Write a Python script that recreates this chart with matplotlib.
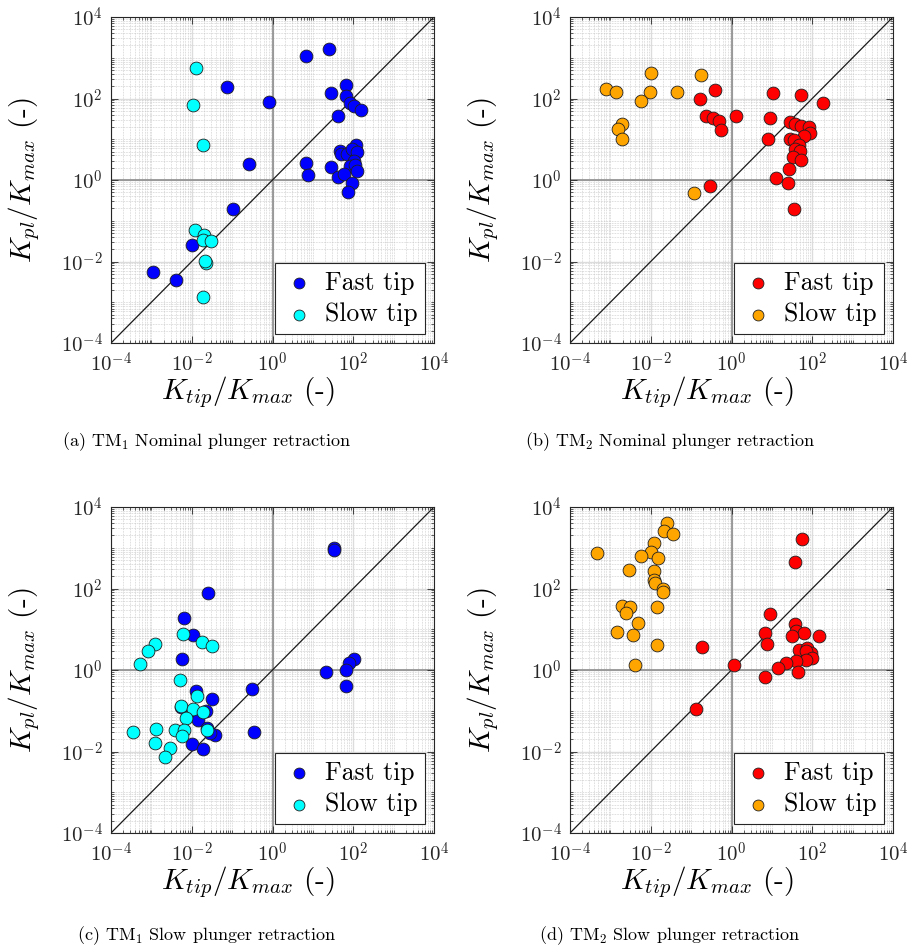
import numpy as np
import matplotlib
matplotlib.use("Agg")
import matplotlib.pyplot as plt
from matplotlib.ticker import FixedLocator, NullFormatter

plt.rcParams["font.family"] = "cmr10"
plt.rcParams["mathtext.fontset"] = "cm"
plt.rcParams["axes.unicode_minus"] = False
plt.rcParams["axes.formatter.use_mathtext"] = True

# ---- data, stored as log10 values ----
# (a) TM1 nominal retraction
a_fast_x = [-1.13, -0.08, -0.57, -0.97, -1.99, -2.97, -2.38, 0.83, 1.40, 1.83, 1.45, 1.81,
            1.91, 2.03, 2.20, 1.62, 2.06, 1.66, 1.69, 1.85, 1.97, 2.10, 2.01, 1.91, 2.04,
            2.09, 1.45, 0.83, 0.88, 1.62, 1.77, 1.97, 1.87]
a_fast_y = [2.27, 1.91, 0.39, -0.72, -1.59, -2.25, -2.46, 3.05, 3.22, 2.33, 2.14, 2.07,
            1.90, 1.81, 1.72, 1.58, 0.87, 0.71, 0.63, 0.64, 0.75, 0.69, 0.46, 0.34, 0.36,
            0.22, 0.32, 0.41, 0.13, 0.08, 0.14, -0.07, -0.30]
a_slow_x = [-1.89, -1.97, -1.72, -1.93, -1.70, -1.71, -1.53, -1.65, -1.68, -1.71]
a_slow_y = [2.74, 1.85, 0.87, -1.23, -1.34, -1.48, -1.49, -2.03, -1.99, -2.88]

# (b) TM2 nominal retraction
b_fast_x = [-0.42, -0.77, -0.64, -0.45, -0.30, -0.26, 0.10, -0.54, 1.04, 1.71, 2.27, 0.96,
            1.46, 1.58, 1.72, 1.93, 1.95, 1.79, 0.91, 1.44, 1.54, 1.67, 1.58, 1.70, 1.52,
            1.72, 1.42, 1.10, 1.40, 1.55]
b_fast_y = [2.22, 2.00, 1.58, 1.51, 1.46, 1.22, 1.56, -0.14, 2.13, 2.08, 1.90, 1.52,
            1.42, 1.38, 1.33, 1.31, 1.16, 1.08, 1.00, 1.01, 0.97, 0.86, 0.75, 0.71, 0.56,
            0.48, 0.28, 0.04, -0.08, -0.70]
b_slow_x = [-2.00, -0.76, -3.11, -2.85, -2.03, -1.34, -2.25, -2.70, -2.81, -2.72, -0.92]
b_slow_y = [2.63, 2.58, 2.23, 2.16, 2.16, 2.17, 1.93, 1.38, 1.24, 1.00, -0.32]

# (c) TM1 slow retraction
c_fast_x = [-1.60, -2.19, -1.98, -2.24, -0.52, -1.89, -1.49, -1.65, -1.96, -1.84, -1.61,
            -1.43, -1.55, -0.47, -2.00, -1.73, -2.26, 1.52, 1.53, 2.01, 1.89, 1.83, 1.33, 1.83]
c_fast_y = [1.88, 1.27, 0.85, 0.28, -0.47, -0.51, -0.71, -1.00, -1.10, -1.23, -1.43,
            -1.59, -1.55, -1.53, -1.81, -1.93, -0.90, 3.00, 2.94, 0.26, 0.18, 0.00, -0.05, -0.39]
c_slow_x = [-2.29, -2.22, -1.74, -1.49, -2.92, -3.08, -3.28, -1.88, -2.26, -1.97, -1.72,
            -2.14, -3.45, -2.88, -2.41, -2.19, -2.23, -1.63, -2.92, -2.53, -2.67]
c_slow_y = [-0.24, 0.89, 0.69, 0.60, 0.63, 0.46, 0.15, -0.65, -0.88, -0.96, -1.03,
            -1.19, -1.52, -1.44, -1.47, -1.47, -1.63, -1.47, -1.79, -1.92, -2.14]

# (d) TM2 slow retraction
d_fast_x = [-0.72, 0.06, -0.87, 1.74, 1.58, 0.96, 1.58, 0.83, 1.60, 1.80, 1.49, 2.17,
            0.88, 1.68, 1.87, 1.98, 1.84, 1.99, 1.84, 1.60, 1.36, 1.15, 1.65, 0.83]
d_fast_y = [0.56, 0.13, -0.96, 3.22, 2.64, 1.37, 1.12, 0.92, 0.96, 0.92, 0.83, 0.83,
            0.64, 0.48, 0.53, 0.41, 0.47, 0.29, 0.25, 0.22, 0.16, 0.06, -0.05, -0.17]
d_slow_x = [-1.60, -1.68, -1.44, -1.91, -2.00, -3.34, -2.25, -1.82, -2.54, -1.91, -1.92,
            -1.90, -1.69, -1.70, -2.72, -2.51, -2.62, -1.85, -2.32, -2.83, -2.45, -1.84, -2.40]
d_slow_y = [3.61, 3.40, 3.34, 3.11, 2.90, 2.88, 2.79, 2.75, 2.45, 2.42, 2.21,
            2.14, 1.99, 1.91, 1.57, 1.55, 1.39, 1.54, 1.15, 0.94, 0.87, 0.62, 0.12]

panels = [
    ("a", "(a) TM$_1$ Nominal plunger retraction", a_fast_x, a_fast_y, a_slow_x, a_slow_y, "#0000ff", "#00ffff"),
    ("b", "(b) TM$_2$ Nominal plunger retraction", b_fast_x, b_fast_y, b_slow_x, b_slow_y, "#ff0000", "#ffa500"),
    ("c", "(c) TM$_1$ Slow plunger retraction", c_fast_x, c_fast_y, c_slow_x, c_slow_y, "#0000ff", "#00ffff"),
    ("d", "(d) TM$_2$ Slow plunger retraction", d_fast_x, d_fast_y, d_slow_x, d_slow_y, "#ff0000", "#ffa500"),
]

# axes boxes in pixels (left, top) on a 915x952 canvas
W, H = 915, 952
boxes = {"a": (111, 17), "b": (570, 17), "c": (111, 507), "d": (570, 507)}
aw, ah = 323, 326
captions_xy = {"a": (207, 446), "b": (670, 446), "c": (207, 940), "d": (670, 940)}

major = [1e-4, 1e-2, 1e0, 1e2, 1e4]
minor = [m * 10.0 ** e for e in range(-4, 4) for m in range(1, 10)] + [1e4]
frame_col = "#262626"

fig = plt.figure(figsize=(W / 100, H / 100), dpi=100)

for key, cap, fx, fy, sx, sy, c_fast, c_slow in panels:
    l, t = boxes[key]
    ax = fig.add_axes([l / W, 1 - (t + ah) / H, aw / W, ah / H])
    ax.set_xscale("log")
    ax.set_yscale("log")
    ax.set_xlim(1e-4, 1e4)
    ax.set_ylim(1e-4, 1e4)

    # grid: dotted minor, solid major, darker lines at 1
    for v in minor:
        ax.axvline(v, color="#c0c0c0", lw=0.5, ls=(0, (1, 1.3)), zorder=0)
        ax.axhline(v, color="#c0c0c0", lw=0.5, ls=(0, (1, 1.3)), zorder=0)
    for v in major:
        ax.axvline(v, color="#dcdcdc", lw=1.0, zorder=0.5)
        ax.axhline(v, color="#dcdcdc", lw=1.0, zorder=0.5)
    ax.axvline(1, color="#8c8c8c", lw=1.2, zorder=1)
    ax.axhline(1, color="#8c8c8c", lw=1.2, zorder=1)
    ax.plot([1e-4, 1e4], [1e-4, 1e4], color="#1a1a1a", lw=0.9, zorder=2)

    ax.scatter(10.0 ** np.array(fx), 10.0 ** np.array(fy), s=85, c=c_fast,
               edgecolors="#202020", linewidths=0.6, zorder=3, label="Fast tip")
    ax.scatter(10.0 ** np.array(sx), 10.0 ** np.array(sy), s=85, c=c_slow,
               edgecolors="#202020", linewidths=0.6, zorder=3, label="Slow tip")

    ax.xaxis.set_major_locator(FixedLocator(major))
    ax.yaxis.set_major_locator(FixedLocator(major))
    ax.xaxis.set_minor_locator(FixedLocator(minor))
    ax.yaxis.set_minor_locator(FixedLocator(minor))
    ax.xaxis.set_minor_formatter(NullFormatter())
    ax.yaxis.set_minor_formatter(NullFormatter())
    labels = ["$10^{-4}$", "$10^{-2}$", "$10^{0}$", "$10^{2}$", "$10^{4}$"]
    ax.set_xticklabels(labels)
    ax.set_yticklabels(labels)
    ax.tick_params(which="both", direction="in", top=True, right=True,
                   color=frame_col, labelsize=15, labelcolor="#262626")
    ax.tick_params(which="major", length=5, width=0.6, pad=6)
    ax.tick_params(which="minor", length=2.5, width=0.5)
    for sp in ax.spines.values():
        sp.set_color(frame_col)
        sp.set_linewidth(0.8)

    ax.set_xlabel("$K_{tip}/K_{max}$ (-)", fontsize=21)
    ax.xaxis.set_label_coords(0.425, -0.095)
    ax.set_ylabel("$K_{pl}/K_{max}$ (-)", fontsize=21)
    ax.yaxis.set_label_coords(-0.215, 0.5)

    leg = ax.legend(loc="lower right", fontsize=18.5, frameon=True, fancybox=False,
                    edgecolor="#262626", framealpha=1, borderaxespad=0.35,
                    handletextpad=0.35, borderpad=0.3, labelspacing=0.3,
                    handlelength=1.3, markerscale=0.85)
    leg.get_frame().set_linewidth(0.8)

    cx, cy = captions_xy[key]
    fig.text(cx / W, 1 - cy / H, cap, ha="center", va="baseline", fontsize=13)

fig.savefig("out.png", dpi=100)
